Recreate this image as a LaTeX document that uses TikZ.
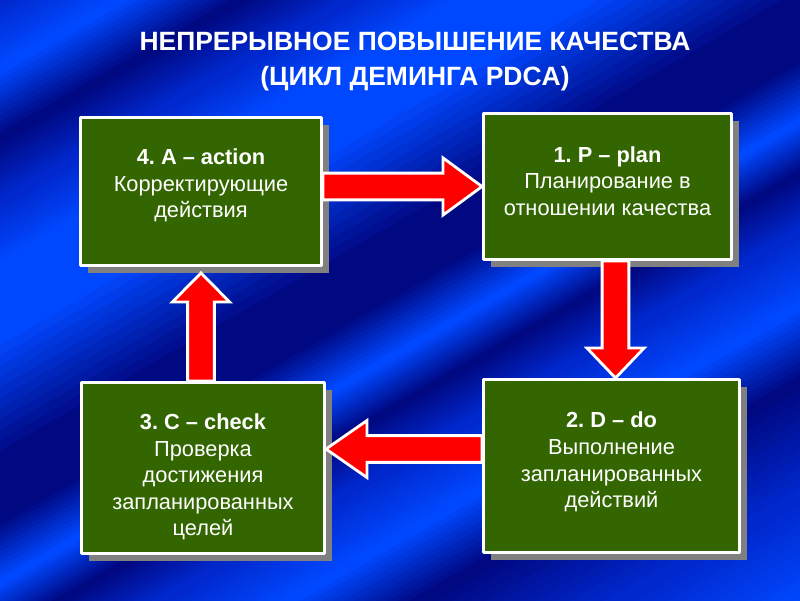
\documentclass[tikz,border=0pt]{standalone}
\usepackage{fontspec}
\setmainfont{Liberation Sans}
\frenchspacing
\usetikzlibrary{calc,shadows}

% block arrow from #1 to #2, head length #3 (pt)
\newcommand\blockarrow[3]{%
  \path let \p1=(#1), \p2=(#2) in
    \pgfextra{%
      \pgfmathsetmacro\baang{atan2(\y2-\y1,\x2-\x1)}%
      \pgfmathsetmacro\balen{veclen(\x2-\x1,\y2-\y1)}%
      \xdef\baang{\baang}\xdef\balen{\balen}%
      \xdef\bax{\x1}\xdef\bay{\y1}};
  \draw[blockarr,shift={(\bax,\bay)},rotate=\baang]
    (0pt,-9.5pt) -- ({(\balen-#3)*1pt},-9.5pt) -- ({(\balen-#3)*1pt},-20.3pt)
    -- ({\balen*1pt},0pt) -- ({(\balen-#3)*1pt},20.3pt)
    -- ({(\balen-#3)*1pt},9.5pt) -- (0pt,9.5pt) -- cycle;
}

\begin{document}
\begin{tikzpicture}[x=0.025cm,y=-0.025cm,line join=round]
  % ----- styles & colors -----
  \definecolor{bgdark}{RGB}{0,8,130}
  \definecolor{bgmid}{RGB}{0,40,205}
  \definecolor{bglight}{RGB}{0,72,255}
  \definecolor{boxgreen}{RGB}{51,102,0}
  \definecolor{shadowgray}{RGB}{128,128,128}
  \definecolor{arrred}{RGB}{255,0,0}
  \def\px{0.025cm}
  \tikzset{
    title/.style={text=white,font=\bfseries\fontsize{18.8}{22}\selectfont},
    box/.style={draw=white,line width=2.1pt,fill=boxgreen,inner sep=0pt,
      drop shadow={shadow xshift=5.3pt,shadow yshift=-5.3pt,fill=shadowgray,opacity=1}},
    boxtext/.style={text=white,align=center,inner sep=0pt,
      font=\fontsize{15.5}{18.9}\selectfont},
    blockarr/.style={fill=arrred,draw=white,line width=2pt,line join=miter}
  }
  \useasboundingbox (0,0) rectangle (800,600);

  % ----- background: diagonal bands -----
  \begin{scope}
    \clip (0,0) rectangle (800,600);
    \foreach \ta/\tb/\ca/\cb in {0/60/bgmid/bglight, 60/120/bglight/bgdark,
        120/175/bgdark/bgmid, 175/230/bgmid/bglight, 230/290/bglight/bglight,
        290/400/bglight/bgdark, 400/450/bgdark/bgdark, 450/505/bgdark/bglight,
        505/550/bglight/bgdark, 550/600/bgdark/bgmid, 600/665/bgmid/bglight,
        665/730/bglight/bgdark, 730/830/bgdark/bgmid, 830/925/bgmid/bglight}{
      \foreach \s in {0,...,11}{
        \pgfmathsetmacro\tlo{\ta+(\tb-\ta)*\s/12}
        \pgfmathsetmacro\thi{\ta+(\tb-\ta)*(\s+1)/12+0.8}
        \pgfmathtruncatemacro\mix{100*\s/11}
        \fill[\cb!\mix!\ca] ({\tlo*0.5-1000},{\tlo*0.866+577})
          -- ({\tlo*0.5+1000},{\tlo*0.866-577})
          -- ({\thi*0.5+1000},{\thi*0.866-577})
          -- ({\thi*0.5-1000},{\thi*0.866+577}) -- cycle;
      }
    }
  \end{scope}

  % ----- title -----
  \node[title] (head1) at (415,41) {НЕПРЕРЫВНОЕ ПОВЫШЕНИЕ КАЧЕСТВА};
  \node[title] (head2) at (415,79) {(ЦИКЛ ДЕМИНГА PDCA)};

  % ----- the four boxes -----
  \node[box,minimum width=241*\px,minimum height=148*\px] (act) at (201,191.5) {};
  \node[box,minimum width=248*\px,minimum height=146*\px] (plan) at (607.5,186.5) {};
  \node[box,minimum width=256*\px,minimum height=173*\px] (do) at (611.5,466) {};
  \node[box,minimum width=243*\px,minimum height=171*\px] (check) at (203,468) {};

  \node[boxtext] (actt) at ($(act)+(0,-6)$)
    {\textbf{4. A – action}\\Корректирующие\\действия};
  \node[boxtext] (plant) at ($(plan)+(0,-5.5)$)
    {\textbf{1. P – plan}\\Планирование в\\отношении качества};
  \node[boxtext] (dot) at ($(do)+(0,-4)$)
    {\textbf{2. D – do}\\Выполнение\\запланированных\\действий};
  \node[boxtext] (checkt) at ($(check)+(0,9)$)
    {\textbf{3. C – check}\\Проверка\\достижения\\запланированных\\целей};

  % ----- arrows of the cycle -----
  \coordinate (ltail) at ($(do.west)+(0,-17)$);
  \coordinate (dtail) at ($(plan.south -| do.north)+(4,0)$);
  \coordinate (utip) at ($(act.south)+(0,6)$);
  \blockarrow{act.east |- plan.west}{plan.west}{27.7}
  \blockarrow{dtail}{dtail |- do.north}{21.3}
  \blockarrow{ltail}{ltail -| check.east}{29.2}
  \blockarrow{check.north -| act.south}{utip}{20.6}

\end{tikzpicture}
\end{document}
